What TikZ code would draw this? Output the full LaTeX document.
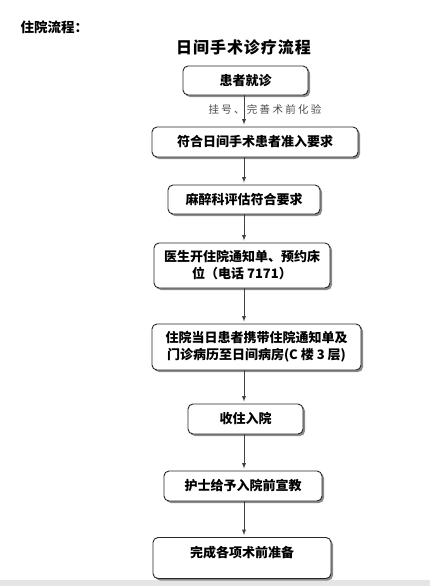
\documentclass[tikz,border=0pt]{standalone}
\usepackage{fontspec}
\setmainfont{Noto Sans CJK SC}
\newfontfamily\cjkwide[LetterSpace=22]{Noto Sans CJK SC}
\newfontfamily\cjktitle[LetterSpace=6]{Noto Sans CJK SC}
\usetikzlibrary{shadows}

\begin{document}
\begin{tikzpicture}[x=1pt,y=-1pt,
    stepbox/.style={draw=black!85,line width=0.9pt,rounded corners=5pt,fill=white,
      general shadow={fill=black!45,shadow xshift=2pt,shadow yshift=-2pt},
      font=\fontsize{13pt}{17pt}\selectfont\bfseries,align=center,inner sep=0pt},
    flow/.style={-latex,draw=black!75,line width=0.9pt,shorten >=2pt}]
      \useasboundingbox (0,0) rectangle (430,586);
      \fill[black!10] (0,580) rectangle (430,586);
      \node[anchor=west,font=\fontsize{13.5pt}{15pt}\selectfont\bfseries] (head) at (17,27) {住院流程：};
      \node[font=\fontsize{16pt}{18pt}\cjktitle\bfseries] (title) at (243.5,47) {日间手术诊疗流程};
      \coordinate (ax) at (244,0);
      \node[stepbox,minimum width=125,minimum height=29] (b1) at (245.5,80.5) {患者就诊};
      \node[stepbox,minimum width=206,minimum height=30] (b2) at (255,142) {符合日间手术患者准入要求};
      \node[stepbox,minimum width=152,minimum height=29] (b3) at (244,199.5) {麻醉科评估符合要求};
      \node[stepbox,minimum width=176,minimum height=45] (b4) at (242,265.5) {医生开住院通知单、预约床\\位（电话 7171）};
      \node[stepbox,minimum width=209,minimum height=46] (b5) at (256.5,347) {住院当日患者携带住院通知单及\\门诊病历至日间病房(C 楼 3 层)};
      \node[stepbox,minimum width=115,minimum height=30] (b6) at (245.5,419) {收住入院};
      \node[stepbox,minimum width=158,minimum height=30] (b7) at (243,486) {护士给予入院前宣教};
      \node[stepbox,minimum width=178,text height=19.5pt,text depth=21.5pt,anchor=base] (b8) at (242,557) {完成各项术前准备};
      \node[font=\fontsize{10.5pt}{12pt}\cjkwide,text=black!70] (note) at (265,109) {挂号、完善术前化验};
      \draw[flow] (b1.south -| ax) -- (b2.north -| ax);
      \draw[flow] (b2.south -| ax) -- (b3.north -| ax);
      \draw[flow] (b3.south -| ax) -- (b4.north -| ax);
      \draw[flow] (b4.south -| ax) -- (b5.north -| ax);
      \draw[flow] (b5.south -| ax) -- (b6.north -| ax);
      \draw[flow] (b6.south -| ax) -- (b7.north -| ax);
      \draw[flow] (b7.south -| ax) -- (b8.north -| ax);
     \end{tikzpicture}
\end{document}
